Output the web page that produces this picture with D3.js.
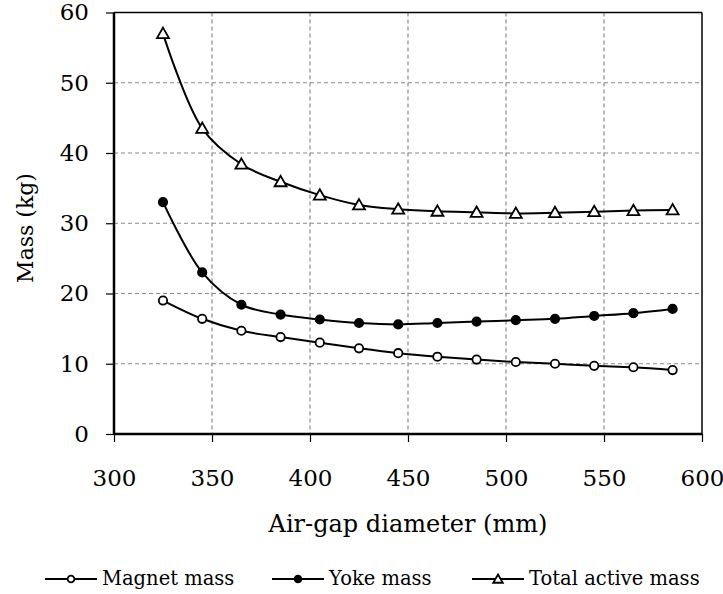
<html>
<head>
    <script src="https://d3js.org/d3.v7.min.js"></script>
</head>
<body style="margin:0">
    <svg id="chartArea" width="723" height="594"></svg>
    <script>
        // data
        const diameters = [325, 345, 365, 385, 405, 425, 445, 465, 485, 505, 525, 545, 565, 585];
        const magnetMass = [19.0, 16.4, 14.7, 13.8, 13.0, 12.2, 11.5, 11.0, 10.6, 10.25, 10.0, 9.7, 9.5, 9.1];
        const yokeMass = [33.0, 23.0, 18.4, 17.0, 16.3, 15.8, 15.6, 15.8, 16.0, 16.2, 16.4, 16.8, 17.2, 17.8];
        const totalMass = [57.0, 43.5, 38.4, 35.9, 34.0, 32.6, 32.0, 31.7, 31.55, 31.4, 31.5, 31.65, 31.8, 31.9];
        const xTicks = [300, 350, 400, 450, 500, 550, 600];
        const yTicks = [0, 10, 20, 30, 40, 50, 60];
        const seriesNames = ["Magnet mass", "Yoke mass", "Total active mass"];

        const FONT = "DejaVu Serif";

        const svg = d3.select("#chartArea").attr("font-family", FONT);
        const margins = { top: 12.5, right: 21, bottom: 160, left: 114 };
        const chartWidth = 702 - margins.left;
        const chartHeight = 434 - margins.top;

        const xScale = d3.scaleLinear().domain([300, 600]).range([0, chartWidth]);
        const yScale = d3.scaleLinear().domain([0, 60]).range([chartHeight, 0]);

        let chartArea = svg.append("g")
            .attr("transform", `translate(${margins.left},${margins.top})`);

        // dashed grid
        chartArea.selectAll("line.vgrid").data(xTicks.slice(1, -1))
            .join("line").attr("class", "vgrid")
            .attr("x1", d => xScale(d)).attr("x2", d => xScale(d))
            .attr("y1", 0).attr("y2", chartHeight)
            .attr("stroke", "#8a8a8a").attr("stroke-width", 1.2).attr("stroke-dasharray", "4,3");
        chartArea.selectAll("line.hgrid").data(yTicks.slice(1, -1))
            .join("line").attr("class", "hgrid")
            .attr("x1", 0).attr("x2", chartWidth)
            .attr("y1", d => yScale(d)).attr("y2", d => yScale(d))
            .attr("stroke", "#8a8a8a").attr("stroke-width", 1.2).attr("stroke-dasharray", "4,3");

        // frame: top and right thin
        chartArea.append("line").attr("x1", 0).attr("x2", chartWidth).attr("y1", 0).attr("y2", 0)
            .attr("stroke", "#000").attr("stroke-width", 1.5);
        chartArea.append("line").attr("x1", chartWidth).attr("x2", chartWidth).attr("y1", 0).attr("y2", chartHeight)
            .attr("stroke", "#000").attr("stroke-width", 1.5);

        // axes
        const xAxis = chartArea.append("g")
            .attr("transform", `translate(0,${chartHeight})`)
            .call(d3.axisBottom(xScale).tickValues(xTicks).tickSize(8));
        const yAxis = chartArea.append("g")
            .call(d3.axisLeft(yScale).tickValues(yTicks).tickSize(8).tickPadding(17));
        [xAxis, yAxis].forEach(a => {
            a.attr("font-family", FONT);
            a.select(".domain").attr("stroke", "#000").attr("stroke-width", 2.5);
            a.selectAll(".tick line").attr("stroke", "#000").attr("stroke-width", 1.2);
            a.selectAll(".tick text").attr("font-family", FONT).attr("font-size", 23).attr("fill", "#000");
        });
        xAxis.select(".domain").attr("d", `M0,0H${chartWidth}`);
        yAxis.select(".domain").attr("d", `M0,0V${chartHeight}`);
        xAxis.selectAll(".tick text").attr("dy", null).attr("y", 52);

        // axis titles
        svg.append("text")
            .attr("x", margins.left + chartWidth / 2).attr("y", 532)
            .attr("text-anchor", "middle").attr("font-size", 24).attr("font-family", FONT)
            .text("Air-gap diameter (mm)");
        svg.append("text")
            .attr("transform", "translate(33,228) rotate(-90)")
            .attr("text-anchor", "middle").attr("font-size", 22).attr("font-family", FONT)
            .text("Mass (kg)");

        const seriesList = [magnetMass, yokeMass, totalMass];
        const line = d3.line()
            .x((d, i) => xScale(diameters[i]))
            .y(d => yScale(d))
            .curve(d3.curveCatmullRom.alpha(0.5));

        chartArea.selectAll("path.series").data(seriesList)
            .join("path").attr("class", "series")
            .attr("d", d => line(d))
            .attr("fill", "none").attr("stroke", "#000").attr("stroke-width", 2);

        function drawMarker(sel, kind, scale) {
            if (kind === 2) {
                sel.append("path")
                    .attr("d", d3.symbol().type(d3.symbolTriangle).size(62 * scale * scale)())
                    .attr("transform", "translate(0,1)")
                    .attr("fill", "#fff").attr("stroke", "#000").attr("stroke-width", 1.8);
            } else {
                sel.append("circle")
                    .attr("r", 4.2 * scale)
                    .attr("fill", kind === 0 ? "#fff" : "#000")
                    .attr("stroke", "#000").attr("stroke-width", 1.8);
            }
        }

        seriesList.forEach((values, k) => {
            chartArea.selectAll(`g.marker${k}`).data(values)
                .join("g").attr("class", `marker${k}`)
                .attr("transform", (d, i) => `translate(${xScale(diameters[i])},${yScale(d)})`)
                .each(function () { drawMarker(d3.select(this), k, 1); });
        });

        // legend
        const legendX = [45, 272, 472];
        const legend = svg.append("g").attr("transform", "translate(0,579)");
        seriesNames.forEach((name, k) => {
            const g = legend.append("g").attr("transform", `translate(${legendX[k]},0)`);
            g.append("line").attr("x1", 0).attr("x2", 52).attr("y1", 0).attr("y2", 0)
                .attr("stroke", "#000").attr("stroke-width", 2);
            const m = g.append("g").attr("transform", "translate(26,0)");
            drawMarker(m, k, 0.8);
            g.append("text").attr("x", 57).attr("y", 0).attr("dy", "0.33em")
                .attr("font-size", 19.5).attr("font-family", FONT).text(name);
        });
    </script>
</body>
</html>
